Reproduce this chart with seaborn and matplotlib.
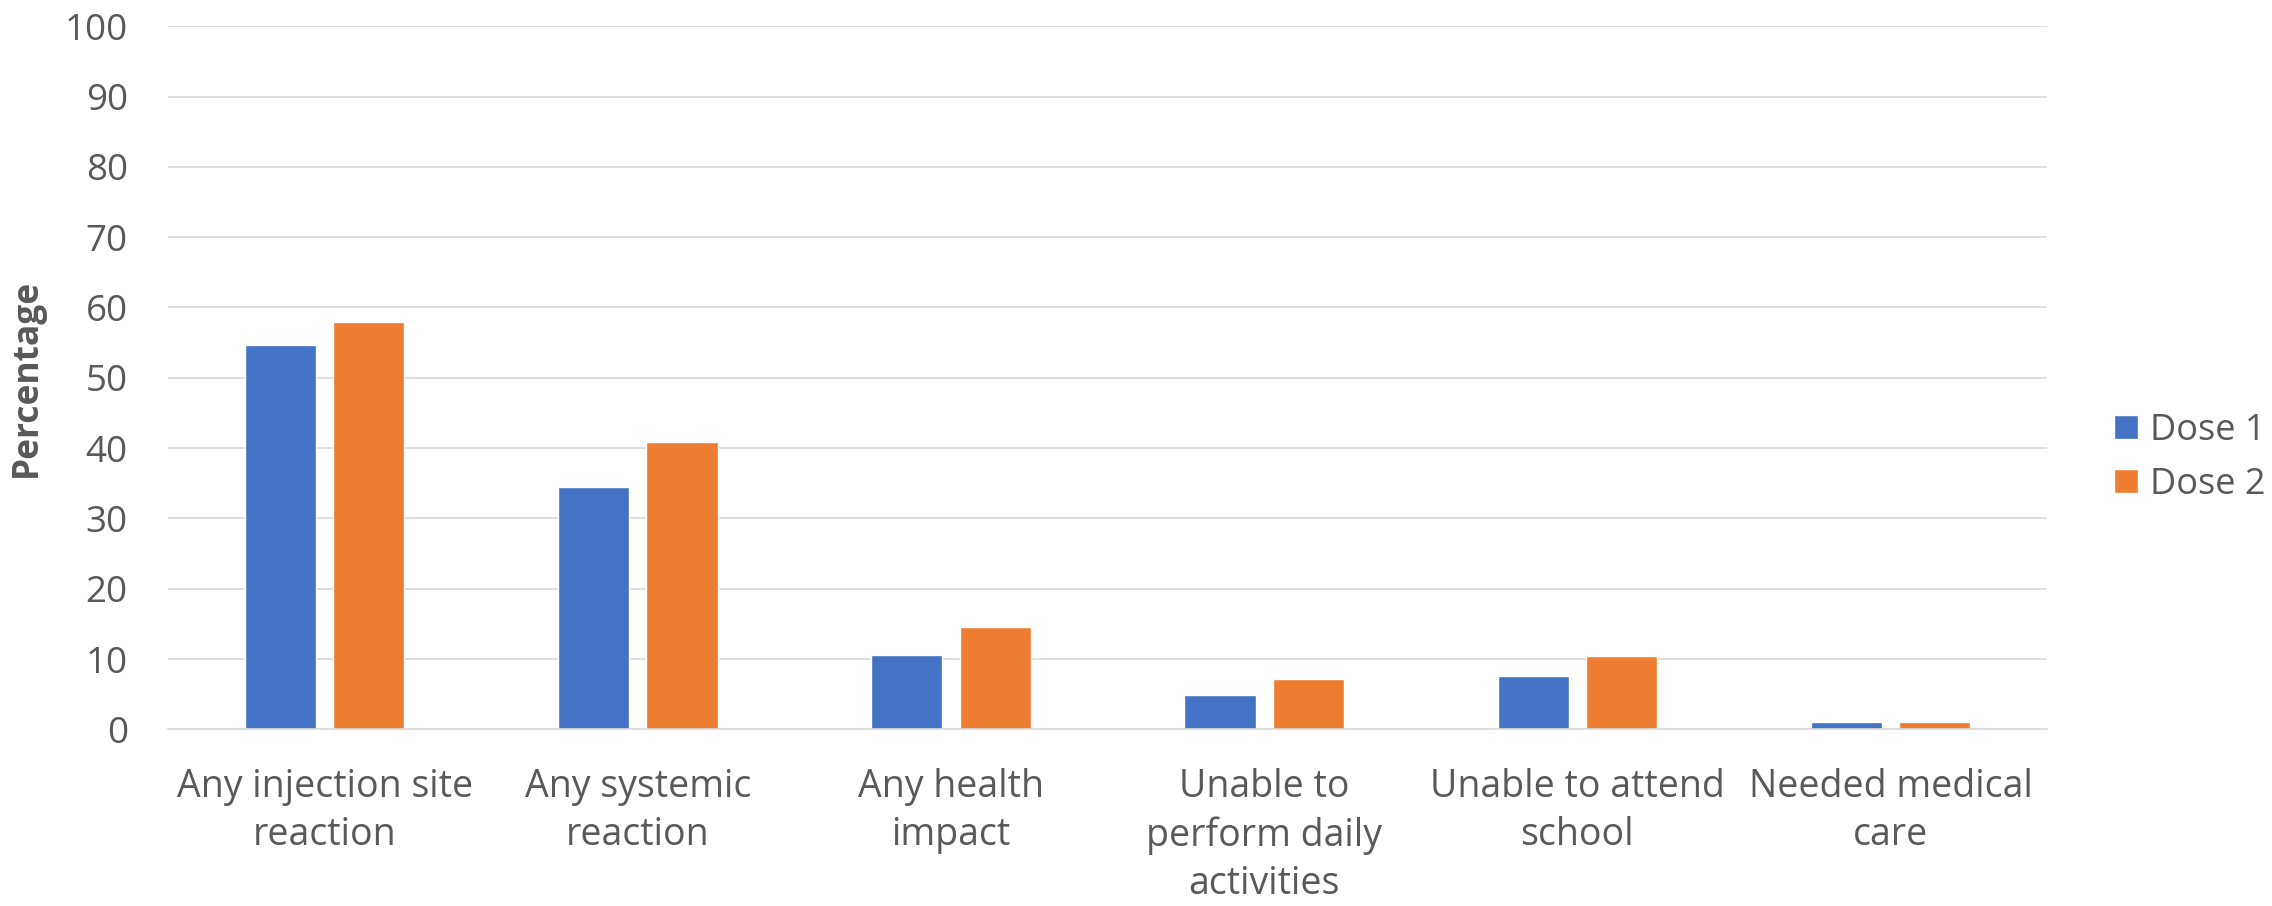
import pandas as pd
import matplotlib
matplotlib.use("Agg")
import matplotlib.pyplot as plt
import seaborn as sns

# data
categories = [
    "Any injection site\nreaction",
    "Any systemic\nreaction",
    "Any health\nimpact",
    "Unable to\nperform daily\nactivities",
    "Unable to attend\nschool",
    "Needed medical\ncare",
]
dose1 = [54.7, 34.4, 10.6, 4.9, 7.6, 1.1]
dose2 = [57.9, 40.9, 14.6, 7.2, 10.4, 1.0]
series = ["Dose 1", "Dose 2"]
colors = ["#4472C4", "#ED7D31"]

df = pd.DataFrame({
    "Category": categories * 2,
    "Dose": [series[0]] * len(categories) + [series[1]] * len(categories),
    "Percentage": dose1 + dose2,
})

sns.set_theme(style="white")
plt.rcParams["font.family"] = ["Open Sans", "DejaVu Sans"]

grey = "#595959"

fig = plt.figure(figsize=(22.72, 9.06), dpi=100)
ax = fig.add_axes([0.074, 0.195, 0.827, 0.776])

sns.barplot(
    data=df,
    x="Category",
    y="Percentage",
    hue="Dose",
    palette=colors,
    width=0.564,
    gap=0.195,
    saturation=1,
    ax=ax,
)

ax.set_ylim(0, 100)
ax.set_yticks(range(0, 101, 10))
ax.set_xlim(-0.5, len(categories) - 0.5)

ax.yaxis.grid(True, color="#D9D9D9", linewidth=1.2)
ax.set_axisbelow(True)
for s in ["top", "right", "left"]:
    ax.spines[s].set_visible(False)
ax.spines["bottom"].set_color("#D9D9D9")
ax.spines["bottom"].set_linewidth(1.2)

ax.tick_params(axis="y", length=0, pad=29, labelsize=26.5, labelcolor=grey)
ax.tick_params(axis="x", length=0, pad=28, labelsize=27, labelcolor=grey)
for lbl in ax.get_xticklabels():
    lbl.set_linespacing(1.34)

ax.set_xlabel("")
ax.set_ylabel("Percentage", fontsize=25.5, fontweight="bold", color=grey)
ax.yaxis.set_label_coords(-0.0655, 0.5)

ax.get_legend().remove()
handles, labels = ax.get_legend_handles_labels()
fig.legend(
    handles, labels,
    loc="center left",
    bbox_to_anchor=(0.916, 0.495),
    frameon=False,
    fontsize=26,
    labelcolor=grey,
    handlelength=0.67,
    handleheight=0.64,
    handletextpad=0.33,
    labelspacing=0.5,
)

fig.savefig("out.png", dpi=100)
